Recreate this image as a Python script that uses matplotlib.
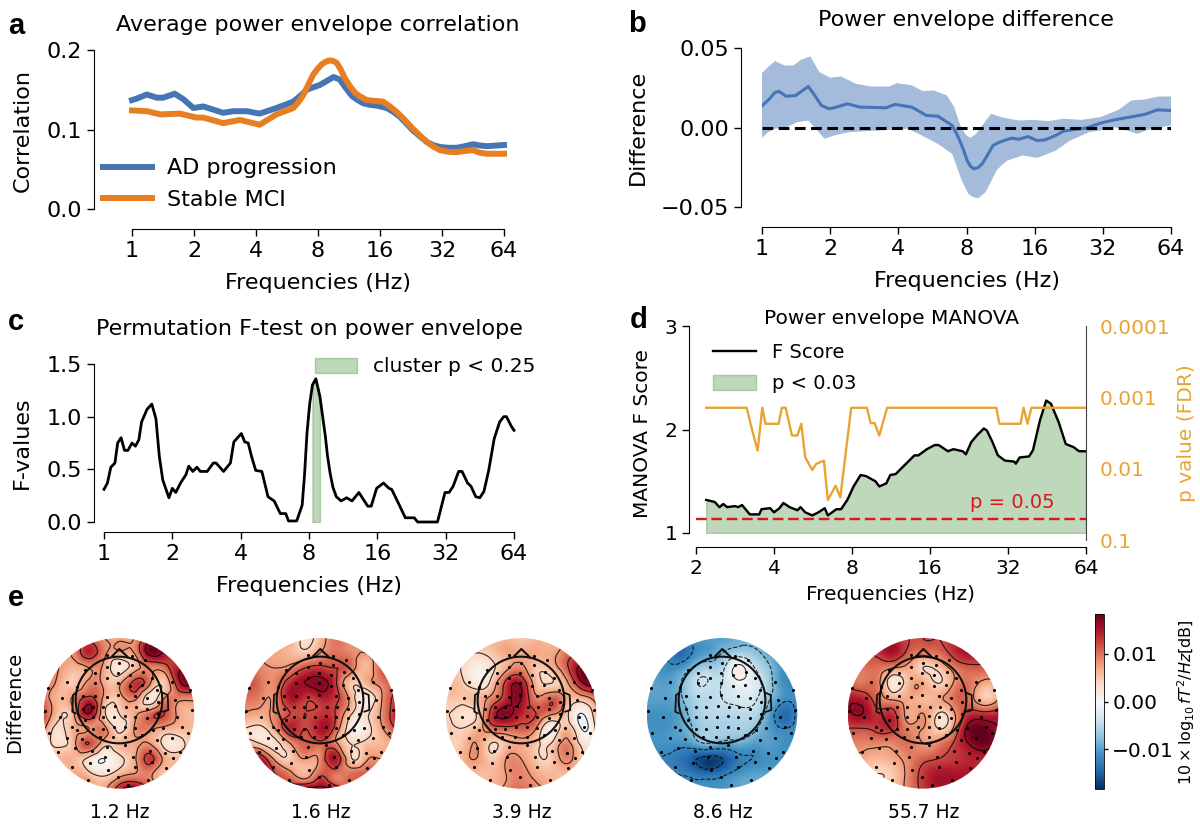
import numpy as np
import matplotlib
matplotlib.use("Agg")
import matplotlib.pyplot as plt
import matplotlib.tri as mtri
from matplotlib.cm import ScalarMappable
from matplotlib.colors import Normalize
from matplotlib.lines import Line2D
from matplotlib.patches import Circle, Patch
from matplotlib.ticker import NullLocator

W, H = 1200, 834

BLUE = '#4575b4'
ORANGE = '#e67e22'
BAND = '#a4bbdb'
GREEN = '#2e7d1e'
YELLOW = '#e8a433'
RED = '#d7191c'

freq_ticks = [1, 2, 4, 8, 16, 32, 64]
freq_labels = ['1', '2', '4', '8', '16', '32', '64']

# a: octaves above 1 Hz and correlation
ad_oct = [0, .08, .24, .40, .50, .69, .83, .99, 1.15, 1.31, 1.47, 1.63, 1.85, 2.06, 2.33, 2.6, 2.71, 2.82, 2.92,
          3.03, 3.14, 3.25, 3.35, 3.45, 3.55, 3.64, 3.73, 3.84, 3.95, 4.11, 4.22, 4.32, 4.42, 4.53, 4.65, 4.76, 4.87,
          4.97, 5.1, 5.24, 5.37, 5.5, 5.6, 5.72, 6]
ad_corr = [.137, .139, .144, .140, .140, .145, .138, .127, .129, .125, .121, .123, .123, .120, .127, .135, .142, .150,
           .153, .156, .161, .166, .163, .152, .142, .137, .133, .131, .130, .127, .122, .116, .108, .099, .091, .084,
           .080, .078, .077, .077, .079, .0815, .080, .079, .0805]
mci_oct = [0, .24, .46, .77, 1.04, 1.15, 1.47, 1.74, 2.06, 2.33, 2.6, 2.68, 2.76, 2.84, 2.92, 2.99, 3.06, 3.12, 3.19,
           3.25, 3.3, 3.37, 3.43, 3.51, 3.6, 3.69, 3.79, 3.92, 4.05, 4.16, 4.27, 4.4, 4.53, 4.65, 4.76, 4.87, 4.97,
           5.1, 5.24, 5.37, 5.5, 5.6, 5.72, 6]
mci_corr = [.124, .123, .119, .120, .115, .115, .108, .112, .106, .119, .127, .134, .143, .156, .1686, .176, .182,
            .185, .187, .186, .184, .175, .165, .155, .146, .141, .137, .136, .135, .129, .122, .112, .101, .092, .084,
            .078, .074, .072, .0715, .073, .074, .071, .0695, .0695]

# b: mean difference and band edges
diff_oct = [0, .11, .19, .25, .35, .49, .68, .76, .87, .98, 1.06, 1.25, 1.44, 1.82, 1.95, 2.2, 2.41, 2.58, 2.79, 2.85,
            2.9, 2.96, 3.01, 3.06, 3.11, 3.17, 3.23, 3.31, 3.39, 3.47, 3.55, 3.66, 3.77, 3.9, 4.04, 4.15, 4.31, 4.42,
            4.58, 4.77, 4.96, 5.17, 5.39, 5.61, 5.8, 6]
diff_mean = [.0136, .018, .022, .0227, .0197, .020, .0258, .021, .0139, .0118, .0124, .0149, .0128, .0124, .0145,
             .0128, .0076, .0071, .0013, -.0035, -.0082, -.0145, -.0208, -.0245, -.026, -.0252, -.0229, -.0172,
             -.0113, -.0095, -.0082, -.0067, -.0074, -.0057, -.0082, -.0078, -.005, -.0023, -.0013, -.0002, .0027,
             .0048, .0065, .0082, .0111, .0107]
upper_oct = [0, .09, .19, .33, .46, .57, .71, .84, 1.0, 1.16, 1.38, 1.6, 1.87, 1.98, 2.2, 2.36, 2.52, 2.71, 2.82,
             2.88, 2.93, 3.0, 3.06, 3.14, 3.25, 3.36, 3.55, 3.77, 3.98, 4.2, 4.42, 4.69, 4.96, 5.23, 5.42, 5.61, 5.82,
             6]
upper_diff = [.0342, .038, .0418, .039, .039, .0426, .0447, .0349, .0313, .0321, .0275, .0258, .0258, .0279, .0265,
              .0229, .0233, .0202, .0128, .005, -.0008, -.005, -.0065, -.004, .0023, .0086, .0061, .0044, .0048, .004,
              .0055, .0048, .0065, .0111, .017, .0176, .0195, .0195]
lower_oct = [0, .09, .19, .36, .52, .68, .79, .92, 1.06, 1.28, 1.71, 2.14, 2.3, 2.58, 2.79, 2.86, 2.93, 3.03, 3.1,
             3.17, 3.28, 3.36, 3.44, 3.52, 3.6, 3.82, 4.04, 4.31, 4.52, 4.8, 4.96, 5.17, 5.39, 5.5, 5.71, 6]
lower_diff = [-.0065, -.0029, -.0008, .0002, .0034, .0044, -.0008, -.0071, -.005, -.0029, -.0019, -.0008, -.004,
              -.0103, -.0166, -.025, -.0334, -.0418, -.0438, -.0445, -.0407, -.034, -.0271, -.0235, -.0208, -.0176,
              -.0191, -.0145, -.0082, -.0029, -.0019, .0002, -.0023, -.004, -.0008, .0013]

# c: permutation F values
perm_oct = [0, .05, .10, .16, .20, .25, .30, .35, .41, .46, .51, .55, .63, .70, .76, .81, .86, .95, 1.00, 1.05,
            1.12, 1.20, 1.24, 1.30, 1.36, 1.41, 1.51, 1.60, 1.64, 1.75, 1.85, 1.90, 2.01, 2.06, 2.11, 2.16, 2.22,
            2.31, 2.40, 2.49, 2.58, 2.66, 2.70, 2.82, 2.90, 2.935, 2.97, 3.01, 3.05, 3.10, 3.16, 3.20, 3.24, 3.27,
            3.31, 3.35, 3.40, 3.47, 3.55, 3.63, 3.73, 3.86, 3.91, 3.99, 4.09, 4.17, 4.21, 4.30, 4.41, 4.54, 4.59,
            4.88, 4.99, 5.05, 5.11, 5.19, 5.24, 5.32, 5.37, 5.44, 5.50, 5.56, 5.63, 5.71, 5.79, 5.85, 5.89, 5.96, 6.0]
perm_f = [.31, .37, .52, .56, .75, .80, .68, .68, .75, .72, .78, .95, 1.07, 1.12, .98, .62, .40, .23, .32, .28,
          .37, .45, .53, .48, .52, .48, .48, .56, .56, .48, .56, .76, .84, .76, .75, .62, .49,
          .48, .24, .20, .08, .08, .01, .01, .16, .45, .84, 1.12, 1.30, 1.36, 1.19, 1.0, .81, .63,
          .46, .33, .24, .20, .23, .20, .28, .15, .15, .32, .37, .32, .31, .19, .04, .04, 0,
          0, .28, .28, .34, .48, .48, .37, .34, .24, .23, .29, .49, .79, .95, 1.0, 1.0, .91, .87]
cluster_range = [3.05, 3.16]

# d: MANOVA F score and FDR p value
manova_oct = [1.13, 1.24, 1.30, 1.35, 1.40, 1.50, 1.54, 1.59, 1.69, 1.81, 1.84, 1.95, 2.00, 2.07, 2.12, 2.20, 2.30,
              2.34, 2.40, 2.49, 2.57, 2.65, 2.69, 2.80, 2.86, 2.94, 3.02, 3.11, 3.18, 3.30, 3.35, 3.44, 3.49, 3.56,
              3.68, 3.80, 3.85, 3.96, 4.06, 4.11, 4.23, 4.30, 4.42, 4.46, 4.53, 4.61, 4.69, 4.73, 4.80, 4.87, 4.96,
              5.08, 5.10, 5.15, 5.27, 5.32, 5.41, 5.49, 5.55, 5.65, 5.74, 5.84, 5.91, 6.0]
manova_f = [1.32, 1.30, 1.25, 1.28, 1.25, 1.26, 1.25, 1.27, 1.18, 1.18, 1.23, 1.24, 1.20, 1.24, 1.29, 1.25, 1.22,
            1.25, 1.20, 1.17, 1.20, 1.24, 1.17, 1.23, 1.23, 1.32, 1.45, 1.56, 1.55, 1.50, 1.45, 1.48, 1.56, 1.57,
            1.66, 1.75, 1.75, 1.81, 1.85, 1.85, 1.79, 1.81, 1.79, 1.76, 1.88, 1.95, 2.01, 1.99, 1.88, 1.75, 1.70,
            1.69, 1.67, 1.73, 1.74, 1.80, 2.09, 2.28, 2.25, 2.07, 1.86, 1.83, 1.79, 1.79]
pval_oct = [1.13, 1.65, 1.71, 1.79, 1.85, 1.89, 2.06, 2.10, 2.15, 2.23, 2.30, 2.35, 2.40, 2.49, 2.54, 2.64, 2.69,
            2.79, 2.85, 2.99, 3.19, 3.24, 3.29, 3.35, 3.45, 4.85, 4.89, 5.16, 5.20, 5.25, 5.30, 6.0]
pval = [.0014, .0014, .00262, .00557, .0014, .00235, .00235, .0014, .0014, .00343, .00343, .00235, .00692, .01045,
        .00859, .00771, .0276, .01733, .02534, .0014, .0014, .0023, .0023, .00343, .0014, .0014, .00235, .00235,
        .0014, .00235, .0014, .0014]
threshold_f = 1.14

# e: scalp maps, values in units of 0.001, sampled on an 11 x 11 grid
map_grid = [26, 71, 117, 162, 207, 252, 297, 342, 388, 433, 478]
map_rows = [24, 69, 114, 160, 205, 250, 295, 340, 386, 431, 476]
map_1_2 = [[8, 8, 9, 10, 8, 7, 8, 14, 15, 11, 9],
           [8, 8, 9, 14, 9, 7, 8, 17, 15, 11, 10],
           [8, 8, 6, 8, 7, 2, 6, 9, 10, 15, 14],
           [9, 7, 5, 9, 7, 7, 13, 9, 5, 15, 15],
           [10, 6, 9, 13, 7, 6, 9, 2, 8, 9, 9],
           [12, 5, 8, 16, 5, 4, 7, 10, 12, 7, 6],
           [9, 3, 7, 8, 9, 3, 8, 9, 7, 6, 6],
           [6, 3, 7, 12, 6, 6, 7, 8, 3, 3, 6],
           [6, 6, 6, 3, 0, 3, 7, 13, 7, 6, 6],
           [6, 6, 7, 5, 3, 6, 8, 9, 5, 8, 8],
           [7, 7, 8, 8, 7, 14, 17, 12, 9, 8, 8]]
map_1_6 = [[9, 9, 8, 7, 3, 6, 10, 9, 9, 9, 9],
           [10, 8, 7, 6, 5, 8, 10, 9, 8, 10, 10],
           [11, 9, 8, 9, 12, 13, 12, 10, 6, 11, 12],
           [13, 10, 9, 14, 16, 17, 13, 5, 6, 9, 12],
           [10, 9, 9, 15, 13, 14, 13, 7, 1, 7, 13],
           [8, 7, 9, 12, 12, 13, 12, 5, 3, 8, 14],
           [4, 3, 8, 14, 12, 15, 11, 2, 2, 7, 12],
           [6, 4, 3, 8, 11, 11, 9, 4, 5, 6, 8],
           [13, 15, 7, 5, 8, 9, 15, 5, 7, 8, 9],
           [13, 15, 12, 9, 6, 11, 10, 10, 11, 10, 10],
           [13, 14, 13, 14, 17, 17, 15, 10, 11, 10, 10]]
map_3_9 = [[6, 6, 6, 6, 6, 5, 6, 6, 8, 9, 9],
           [5, 5, 4, 5, 7, 7, 7, 7, 10, 12, 12],
           [5, 4, 1, 3, 7, 9, 5, 6, 11, 17, 15],
           [6, 5, 2, 5, 13, 15, 6, 4, 7, 15, 17],
           [5, 5, 6, 9, 14, 16, 9, 11, 7, 6, 10],
           [4, 3, 4, 13, 17, 14, 12, 9, 5, 0, 7],
           [5, 4, 6, 10, 11, 11, 8, 1, 6, 0, 5],
           [5, 5, 8, 4, 6, 7, 5, 4, 9, 3, 5],
           [5, 6, 8, 5, 8, 8, 5, 5, 9, 5, 5],
           [5, 6, 6, 6, 8, 9, 7, 6, 6, 6, 5],
           [5, 6, 6, 6, 9, 10, 9, 7, 6, 5, 5]]
map_8_6 = [[-10, -11, -11, -11, -10, -10, -9, -9, -9, -10, -10],
           [-10, -11, -14, -12, -10, -8, -6, -7, -9, -11, -10],
           [-10, -11, -11, -8, -6, -5, 1, -3, -7, -11, -11],
           [-10, -10, -9, -5, -4, -4, -1, -2, -6, -11, -11],
           [-10, -10, -9, -6, -5, -4, -3, -3, -7, -11, -11],
           [-11, -11, -10, -7, -5, -5, -5, -5, -9, -14, -11],
           [-11, -11, -10, -8, -6, -6, -6, -7, -10, -12, -11],
           [-11, -11, -11, -10, -8, -9, -9, -10, -10, -11, -11],
           [-11, -12, -13, -15, -17, -16, -13, -12, -11, -11, -11],
           [-11, -11, -12, -13, -14, -13, -11, -10, -10, -10, -10],
           [-10, -10, -11, -11, -11, -11, -10, -9, -9, -9, -9]]
map_55_7 = [[13, 13, 14, 14, 12, 12, 12, 13, 14, 14, 13],
            [12, 12, 13, 15, 11, 9, 10, 13, 15, 14, 13],
            [11, 10, 10, 8, 7, 4, 5, 9, 11, 11, 11],
            [11, 10, 9, 2, 6, 7, 4, 8, 10, 7, 8],
            [15, 14, 10, 7, 7, 6, 7, 10, 10, 5, 8],
            [15, 16, 13, 13, 7, 8, 4, 7, 13, 13, 14],
            [12, 12, 13, 13, 9, 8, 4, 8, 17, 18, 16],
            [9, 9, 9, 9, 10, 8, 9, 12, 16, 18, 15],
            [8, 7, 6, 7, 9, 11, 12, 13, 14, 14, 13],
            [7, 5, 4, 5, 9, 13, 15, 15, 15, 14, 13],
            [7, 6, 5, 6, 9, 13, 15, 15, 15, 14, 13]]
scalp_maps = [map_1_2, map_1_6, map_3_9, map_8_6, map_55_7]
scalp_labels = ['1.2 Hz', '1.6 Hz', '3.9 Hz', '8.6 Hz', '55.7 Hz']
scalp_levels = [-16, -12, -8, -4, 0, 4, 8, 12, 16]

sensor_x = [215, 290, 253, 290, 330, 215, 180, 150, 250, 285, 325, 350, 95, 125, 180, 215, 250, 285, 320, 365, 410,
            465, 40, 80, 145, 180, 215, 250, 300, 335, 370, 420, 30, 75, 145, 175, 205, 240, 272, 302, 335, 368, 425,
            470, 110, 150, 175, 205, 238, 270, 300, 335, 385, 440, 42, 125, 175, 205, 238, 270, 300, 355, 460, 70, 95,
            140, 195, 235, 270, 320, 365, 410, 120, 170, 215, 270, 345, 390, 435, 110, 165, 210, 295, 350, 415, 392,
            160, 220, 250, 280, 340, 300]
sensor_y = [75, 78, 98, 105, 90, 112, 128, 120, 128, 135, 125, 145, 155, 170, 160, 145, 160, 168, 165, 180, 157,
            180, 175, 205, 198, 198, 200, 195, 197, 205, 215, 210, 242, 262, 237, 232, 232, 228, 232, 232, 238, 252,
            260, 240, 290, 270, 262, 262, 262, 258, 262, 265, 295, 290, 310, 300, 298, 298, 290, 290, 295, 300, 310,
            365, 325, 328, 322, 320, 322, 315, 330, 325, 355, 362, 350, 345, 362, 370, 365, 410, 400, 380, 380, 395,
            385, 415, 450, 420, 440, 465, 450, 410]


def axes_px(x0, y0, x1, y1):
    ax = fig.add_axes([x0 / W, 1 - y1 / H, (x1 - x0) / W, (y1 - y0) / H])
    ax.box_px = (x0, y0, x1, y1)
    return ax


def frac(ax, x, y):
    x0, y0, x1, y1 = ax.box_px
    return (x - x0) / (x1 - x0), (y1 - y) / (y1 - y0)


def style_axes(ax, left_px, bottom_px, xticks=freq_ticks, xlabels=freq_labels, xlim=(1, 64), size=16):
    x0, y0, x1, y1 = ax.box_px
    for side in ['top', 'right']:
        ax.spines[side].set_visible(False)
    ax.spines['left'].set_position(('outward', (x0 - left_px) * 0.72))
    ax.spines['bottom'].set_position(('outward', (bottom_px - y1) * 0.72))
    ax.set_xscale('log', base=2)
    ax.set_xlim(*xlim)
    ax.set_xticks(xticks)
    ax.set_xticklabels(xlabels)
    ax.xaxis.set_minor_locator(NullLocator())
    ax.tick_params(labelsize=size, length=5, width=1)
    ax.patch.set_alpha(0)


def set_labels(ax, title, tx, ty, tsize, xlab, xx, xy, ylab, yx, yy, lsize=16):
    fx, fy = frac(ax, tx, ty)
    ax.set_title(title, x=fx, y=fy, fontsize=tsize, va='center', pad=0)
    ax.set_xlabel(xlab, fontsize=lsize, va='center')
    ax.xaxis.set_label_coords(*frac(ax, xx, xy))
    ax.set_ylabel(ylab, fontsize=lsize, va='center')
    ax.yaxis.set_label_coords(*frac(ax, yx, yy))


def hz(octaves):
    return 2.0 ** np.array(octaves)


fig = plt.figure(figsize=(W / 100, H / 100), dpi=100)

# panel a
ax_a = axes_px(132, 50, 504, 209)
style_axes(ax_a, 94, 229)
ax_a.plot(hz(ad_oct), ad_corr, color=BLUE, lw=4.3, label='AD progression', clip_on=False)
ax_a.plot(hz(mci_oct), mci_corr, color=ORANGE, lw=4.3, label='Stable MCI', clip_on=False)
ax_a.set_ylim(0, 0.2)
ax_a.set_yticks([0, 0.1, 0.2])
ax_a.set_yticklabels(['0.0', '0.1', '0.2'])
set_labels(ax_a, 'Average power envelope correlation', 318, 25, 16,
           'Frequencies (Hz)', 318, 283, 'Correlation', 23, 130)
ax_a.legend(loc='center left', bbox_to_anchor=frac(ax_a, 103, 184), frameon=False, fontsize=16, borderpad=0,
            borderaxespad=0, handlelength=2.2, handletextpad=0.7, labelspacing=0.5)

# panel b
ax_b = axes_px(762, 48, 1171, 207)
style_axes(ax_b, 741, 227)
ax_b.fill(np.r_[hz(upper_oct), hz(lower_oct)[::-1]], np.r_[upper_diff, lower_diff[::-1]], color=BAND, lw=0)
ax_b.plot(hz(diff_oct), diff_mean, color=BLUE, lw=2.2)
ax_b.plot([1, 64], [0, 0], color='black', lw=2.2, ls=(0, (3.5, 1.8)))
ax_b.set_ylim(-0.05, 0.05)
ax_b.set_yticks([-0.05, 0, 0.05])
ax_b.set_yticklabels(['\u22120.05', '0.00', '0.05'])
set_labels(ax_b, 'Power envelope difference', 966, 20, 16,
           'Frequencies (Hz)', 967, 281, 'Difference', 638, 127)

# panel c
ax_c = axes_px(104, 364, 514, 522)
style_axes(ax_c, 94, 532)
perm_oct_arr = np.array(perm_oct)
in_cluster = (perm_oct_arr >= cluster_range[0]) & (perm_oct_arr <= cluster_range[1])
ax_c.fill_between(hz(perm_oct_arr[in_cluster]), 0, np.array(perm_f)[in_cluster], color=GREEN, alpha=0.3)
ax_c.plot(hz(perm_oct), perm_f, color='black', lw=2, clip_on=False)
ax_c.set_ylim(0, 1.5)
ax_c.set_yticks([0, 0.5, 1.0, 1.5])
ax_c.set_yticklabels(['0.0', '0.5', '1.0', '1.5'])
set_labels(ax_c, 'Permutation F-test on power envelope', 309, 329, 16,
           'Frequencies (Hz)', 309, 586, 'F-values', 22, 443)
ax_c.legend(handles=[Patch(color=GREEN, alpha=0.3, label='cluster p < 0.25')], loc='center left',
            bbox_to_anchor=frac(ax_c, 315, 367), frameon=False, fontsize=14.5, borderpad=0, borderaxespad=0,
            handlelength=2.1, handleheight=0.8, handletextpad=0.8)

# panel d
ax_d = axes_px(696, 326, 1086, 533)
style_axes(ax_d, 689, 547, xticks=[2, 4, 8, 16, 32, 64], xlabels=['2', '4', '8', '16', '32', '64'], xlim=(2, 64),
           size=14.5)
ax_d.fill_between(hz(manova_oct), 1, manova_f, color=GREEN, alpha=0.3)
ax_d.plot(hz(manova_oct), manova_f, color='black', lw=1.7)
ax_d.plot([2, 64], [threshold_f, threshold_f], color=RED, lw=1.7, ls=(0, (4.5, 2)))
ax_d.set_ylim(1, 3)
ax_d.set_yticks([1, 2, 3])
ax_d.set_yticklabels(['1', '2', '3'])
set_labels(ax_d, 'Power envelope MANOVA', 891, 319, 14.5,
           'Frequencies (Hz)', 890, 594, 'MANOVA F Score', 642, 433, lsize=14.5)
ax_d.text(*frac(ax_d, 970, 503), 'p = 0.05', transform=ax_d.transAxes, color=RED, fontsize=14, va='center')
ax_d.legend(handles=[Line2D([0], [0], color='black', lw=1.7, label='F Score'),
                     Patch(color=GREEN, alpha=0.3, label='p < 0.03')],
            loc='center left', bbox_to_anchor=frac(ax_d, 713, 368), frameon=False, fontsize=14, borderpad=0,
            borderaxespad=0, handlelength=2.2, handleheight=0.8, handletextpad=0.85, labelspacing=0.65)

ax_p = axes_px(696, 326, 1086, 540)
ax_p.patch.set_alpha(0)
for side in ['top', 'left', 'bottom']:
    ax_p.spines[side].set_visible(False)
ax_p.spines['right'].set_color('#444444')
ax_p.set_xscale('log', base=2)
ax_p.set_xlim(2, 64)
ax_p.set_xticks([])
ax_p.xaxis.set_minor_locator(NullLocator())
ax_p.plot(hz(pval_oct), pval, color=YELLOW, lw=1.7)
ax_p.set_yscale('log')
ax_p.set_ylim(0.1, 0.0001)
ax_p.yaxis.tick_right()
ax_p.set_yticks([0.1, 0.01, 0.001, 0.0001])
ax_p.set_yticklabels(['0.1', '0.01', '0.001', '0.0001'])
ax_p.yaxis.set_minor_locator(NullLocator())
ax_p.tick_params(axis='y', length=0, pad=10, labelsize=14.5, labelcolor=YELLOW)
ax_p.yaxis.set_label_position('right')
ax_p.set_ylabel('p value (FDR)', fontsize=14.5, color=YELLOW, va='center', rotation=90)
ax_p.yaxis.set_label_coords(*frac(ax_p, 1187, 433))

# panel e
vmax = 18.3
grid_x, grid_y = np.meshgrid(map_grid, map_rows)
fine_x, fine_y = np.meshgrid(np.linspace(map_grid[0], map_grid[-1], 226), np.linspace(map_rows[0], map_rows[-1], 226))
tri = mtri.Triangulation(grid_x.ravel().astype(float), grid_y.ravel().astype(float))

for left, values, label in zip([35, 236, 437, 638, 839], scalp_maps, scalp_labels):
    ax = axes_px(left, 630, left + 170, 800)
    field = mtri.CubicTriInterpolator(tri, np.array(values, dtype=float).ravel(), kind='min_E')(fine_x, fine_y)
    clip = Circle((252, 250), 226, transform=ax.transData)
    im = ax.imshow(field, extent=(map_grid[0], map_grid[-1], map_rows[-1], map_rows[0]), cmap='RdBu_r', vmin=-vmax,
                   vmax=vmax, interpolation='bilinear', aspect='auto')
    im.set_clip_path(clip)
    lines = ax.contour(fine_x, fine_y, field, levels=scalp_levels, colors='black', linewidths=0.8, alpha=0.8)
    lines.set_clip_path(clip)
    ax.plot(sensor_x, sensor_y, 'o', color='black', ms=2.2, mew=0)
    ax.add_patch(Circle((252, 210), 130, fill=False, color='#111111', lw=1.5))
    ax.plot([232, 253, 277], [78, 57, 80], color='#111111', lw=1.5)
    ax.plot([124, 114, 112, 122], [188, 195, 245, 250], color='#111111', lw=1.3)
    ax.plot([382, 398, 400, 385], [188, 195, 240, 245], color='#111111', lw=1.3)
    ax.set_xlim(0, 510)
    ax.set_ylim(510, 0)
    ax.axis('off')
    ax.text(0.5, frac(ax, 0, 813)[1], label, transform=ax.transAxes,
            ha='center', va='center', fontsize=13.5, clip_on=False)

fig.text(15 / W, 1 - 702 / H, 'Difference', rotation=90, ha='center', va='center', fontsize=14)

cax = axes_px(1095, 614, 1104, 789)
cbar = fig.colorbar(ScalarMappable(Normalize(-vmax / 1000, vmax / 1000), 'RdBu_r'), cax=cax)
cbar.set_ticks([-0.01, 0, 0.01])
cbar.set_ticklabels(['\u22120.01', '0.00', '0.01'])
cbar.ax.tick_params(labelsize=14.5, length=3, width=1, pad=3)
cbar.outline.set_linewidth(0.6)
cbar.set_label(r'$10\times\log_{10}fT^2/Hz$[dB]', fontsize=11.5, va='center')
cax.yaxis.set_label_coords(*frac(cax, 1186, 702))

# panel letters
for letter, px, py in [('a', 8, 26), ('b', 628, 24), ('c', 8, 322), ('d', 630, 320), ('e', 8, 598)]:
    fig.text(px / W, 1 - py / H, letter, family='Liberation Sans', weight='bold', fontsize=21, ha='left',
             va='center')

fig.savefig('out.png', dpi=100)
